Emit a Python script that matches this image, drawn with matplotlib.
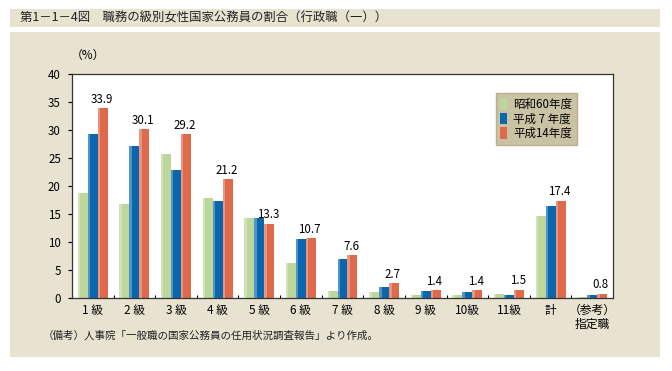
import numpy as np
import matplotlib.pyplot as plt
from matplotlib.patches import Rectangle

plt.rcParams['font.family'] = ['Noto Sans CJK JP', 'DejaVu Sans']

categories = ['1 級', '2 級', '3 級', '4 級', '5 級', '6 級', '7 級', '8 級',
              '9 級', '10級', '11級', '計', '（参考）\n指定職']
s60 = [18.7, 16.8, 25.7, 17.8, 14.3, 6.3, 1.3, 1.1, 0.5, 0.6, 0.8, 14.6, 0.2]
h7 = [29.3, 27.2, 22.9, 17.4, 14.2, 10.5, 7.0, 1.9, 1.25, 1.1, 0.6, 16.5, 0.6]
h14 = [33.9, 30.1, 29.2, 21.2, 13.3, 10.7, 7.6, 2.7, 1.4, 1.4, 1.5, 17.4, 0.8]
series_names = ['昭和60年度', '平成 7 年度', '平成14年度']
colors = ['#BDD69B', '#0A67AE', '#DF6A4B']

bg = '#E8E2D1'
fig = plt.figure(figsize=(6.72, 3.71), dpi=100)
fig.patch.set_facecolor('white')

# title band and panel
fig.add_artist(Rectangle((10/672, 1-27/371), 650/672, 18/371, transform=fig.transFigure,
                         facecolor=bg, edgecolor='none', zorder=0))
fig.add_artist(Rectangle((10/672, 1-357/371), 650/672, 325/371, transform=fig.transFigure,
                         facecolor=bg, edgecolor='none', zorder=0))
fig.text(20/672, 1-18/371, '第1－1－4図　職務の級別女性国家公務員の割合（行政職（一））',
         fontsize=8.9, va='center', ha='left', color='#222222')

ax = fig.add_axes([72/672, 1-298/371, 541/672, 224/371])
ax.set_facecolor('white')

x = np.arange(len(categories))
w = 0.24
for i, (vals, name) in enumerate(zip([s60, h7, h14], series_names)):
    ax.bar(x + (i - 1) * w, vals, w, color=colors[i], label=name, zorder=2)
    # light left edge highlight
    ax.bar(x + (i - 1) * w - w * 0.38, vals, w * 0.24, color='white', alpha=0.3,
           linewidth=0, zorder=3)

for xi, v in zip(x, h14):
    ax.text(xi + w - 0.03, v + 0.4, f'{v:.1f}', ha='center', va='bottom', fontsize=8.3)

ax.set_xlim(-0.5, len(categories) - 0.5)
ax.set_ylim(0, 40)
ax.set_yticks(range(0, 41, 5))
ax.set_xticks(x)
ax.set_xticklabels(categories, fontsize=8.5, linespacing=1.15)
ax.set_xticks(np.arange(0.5, len(categories) - 1, 1), minor=True)
ax.tick_params(axis='x', which='major', length=0, pad=4)
ax.tick_params(axis='x', which='minor', length=2, direction='in', width=0.8)
ax.tick_params(axis='y', labelsize=8.3, length=3, direction='out', width=0.8, pad=5)
for sp in ax.spines.values():
    sp.set_color('#333333')
    sp.set_linewidth(0.9)

fig.text(88/672, 1-55/371, '（%）', fontsize=8.5, ha='center', va='center')

leg = ax.legend(loc='upper left', bbox_to_anchor=(0.783, 0.915), fontsize=8.3,
                frameon=True, fancybox=False, handlelength=0.6, handleheight=1.2,
                handletextpad=0.5, borderpad=0.4, labelspacing=0.15,
                borderaxespad=0)
leg.get_frame().set_facecolor('#C9C2A3')
leg.get_frame().set_edgecolor('#B8B090')
leg.get_frame().set_alpha(1)

fig.text(43/672, 1-336/371, '（備考）人事院「一般職の国家公務員の任用状況調査報告」より作成。',
         fontsize=7.6, ha='left', va='center', color='#222222')

fig.savefig('out.png', dpi=100, facecolor=fig.get_facecolor())
